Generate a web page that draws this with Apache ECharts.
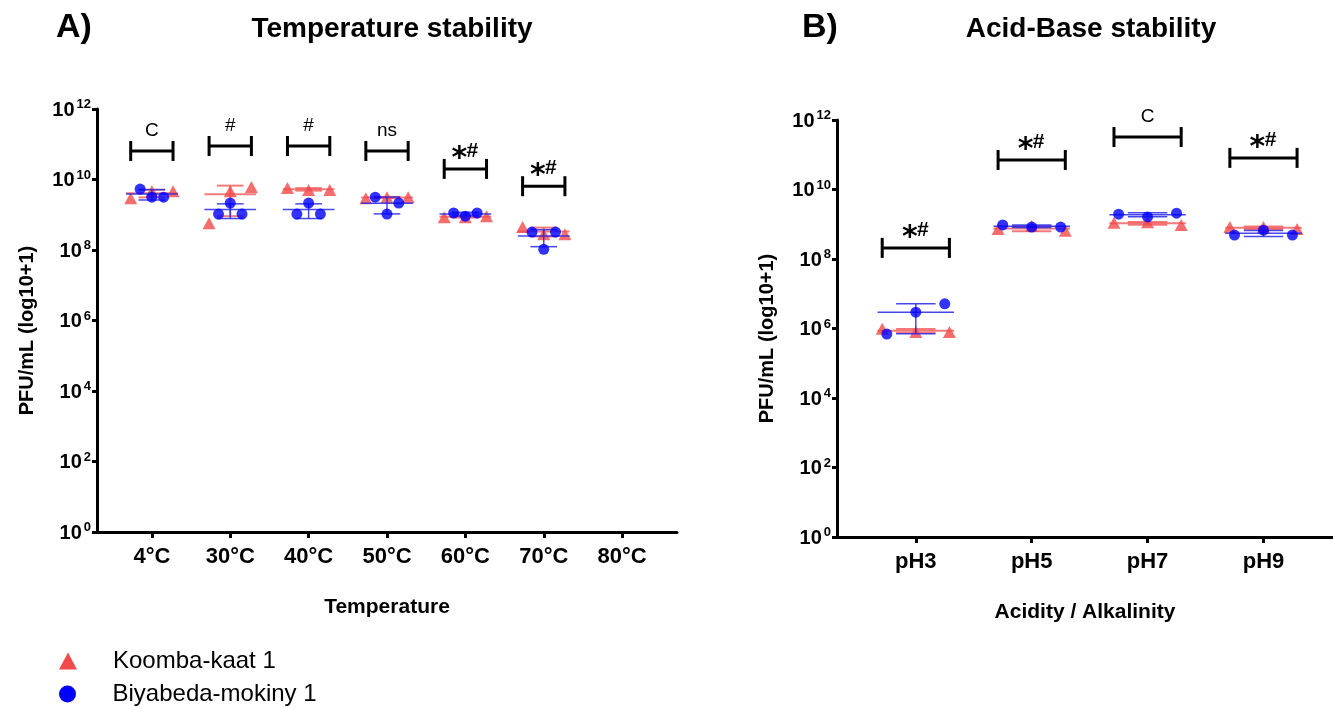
<!DOCTYPE html>
<html>
<head>
<meta charset="utf-8">
<script src="https://cdn.jsdelivr.net/npm/echarts@6/dist/echarts.min.js"></script>
<style>
html, body { margin: 0; padding: 0; background: #fff; }
#chart { width: 1333px; height: 708px; }
</style>
</head>
<body>
<div id="chart"></div>
<script>
// categories
var tempCats = ['4°C', '30°C', '40°C', '50°C', '60°C', '70°C', '80°C'];
var phCats = ['pH3', 'pH5', 'pH7', 'pH9'];

// replicates, log10(PFU/mL) (left -> right inside each group)
var tempKoomba = [[9.47, 9.67, 9.67], [8.76, 9.67, 9.79], [9.76, 9.70, 9.70], [9.47, 9.50, 9.50], [8.93, 8.93, 8.96], [8.65, 8.45, 8.45], []];
var tempBiyabeda = [[9.73, 9.50, 9.50], [9.02, 9.33, 9.02], [9.02, 9.33, 9.02], [9.50, 9.02, 9.33], [9.05, 8.96, 9.05], [8.51, 8.02, 8.51], []];
var phKoomba = [[5.99, 5.90, 5.90], [8.86, 8.95, 8.81], [9.04, 9.06, 8.98], [8.92, 8.92, 8.86]];
var phBiyabeda = [[5.84, 6.47, 6.71], [8.98, 8.92, 8.92], [9.29, 9.21, 9.32], [8.69, 8.83, 8.69]];

// significance marks and the height of their brackets (log10)
var tempSig = ['C', '#', '#', 'ns', '*#', '*#'];
var tempSigY = [10.81, 10.95, 10.95, 10.81, 10.30, 9.81];
var phSig = ['*#', '*#', 'C', '*#'];
var phSigY = [8.32, 10.85, 11.51, 10.91];

var RED = '#F24a4a';
var BLUE = '#0000FF';
var FONT = 'Arial, "Liberation Sans", Helvetica, sans-serif';

var tupu = echarts.init(document.getElementById('chart'));

// mean and SD are taken on the linear PFU values, then shown on the log axis
function stats(reps) {
    var lin = reps.map(function (e) { return Math.pow(10, e); });
    var n = lin.length;
    var mean = lin.reduce(function (a, b) { return a + b; }, 0) / n;
    var sd = Math.sqrt(lin.reduce(function (a, b) { return a + (b - mean) * (b - mean); }, 0) / (n - 1));
    var lo = mean - sd > 0 ? Math.log10(mean - sd) : 0;
    return [Math.log10(mean), Math.log10(mean + sd), lo];
}

function points(groups, spread) {
    var out = [];
    groups.forEach(function (reps, i) {
        reps.forEach(function (v, j) {
            var off = reps.length > 1 ? (j / (reps.length - 1) * 2 - 1) * spread : 0;
            out.push([i + 1 + off, v]);
        });
    });
    return out;
}

function errData(groups) {
    var out = [];
    groups.forEach(function (reps, i) {
        if (!reps.length) return;
        var s = stats(reps);
        out.push([i + 1, s[0], s[1], s[2]]);
    });
    return out;
}

function errRender(color, width, halfMean, halfCap) {
    return function (params, api) {
        var x = api.value(0), m = api.value(1), hi = api.value(2), lo = api.value(3);
        var a = api.coord([x - halfMean, m]), b = api.coord([x + halfMean, m]);
        var t1 = api.coord([x - halfCap, hi]), t2 = api.coord([x + halfCap, hi]);
        var b1 = api.coord([x - halfCap, lo]), b2 = api.coord([x + halfCap, lo]);
        var st = { stroke: color, lineWidth: width };
        return {
            type: 'group',
            children: [
                { type: 'line', shape: { x1: a[0], y1: a[1], x2: b[0], y2: b[1] }, style: st },
                { type: 'line', shape: { x1: (t1[0] + t2[0]) / 2, y1: t1[1], x2: (b1[0] + b2[0]) / 2, y2: b1[1] }, style: st },
                { type: 'line', shape: { x1: t1[0], y1: t1[1], x2: t2[0], y2: t2[1] }, style: st },
                { type: 'line', shape: { x1: b1[0], y1: b1[1], x2: b2[0], y2: b2[1] }, style: st }
            ]
        };
    };
}

function bracketRender(labels, half) {
    return function (params, api) {
        var x = api.value(0), y = api.value(1);
        var p1 = api.coord([x - half, y]), p2 = api.coord([x + half, y]);
        var lab = labels[params.dataIndex];
        var st = { stroke: '#000', lineWidth: 3 };
        var kids = [
            { type: 'line', shape: { x1: p1[0], y1: p1[1], x2: p2[0], y2: p2[1] }, style: st },
            { type: 'line', shape: { x1: p1[0], y1: p1[1] - 10, x2: p1[0], y2: p1[1] + 10 }, style: st },
            { type: 'line', shape: { x1: p2[0], y1: p2[1] - 10, x2: p2[0], y2: p2[1] + 10 }, style: st }
        ];
        var cx = (p1[0] + p2[0]) / 2;
        if (lab === '*#') {
            kids.push({ type: 'text', style: { text: '*', x: cx - 6, y: p1[1] - 10, align: 'center', verticalAlign: 'middle',
                font: 'bold 30px "DejaVu Sans", sans-serif', fill: '#000' } });
            kids.push({ type: 'text', style: { text: '#', x: cx + 7, y: p1[1] - 18, align: 'center', verticalAlign: 'middle',
                font: 'bold 21px ' + FONT, fill: '#000' } });
        } else {
            kids.push({ type: 'text', style: { text: lab, x: cx, y: p1[1] - 20, align: 'center', verticalAlign: 'middle',
                font: '19px ' + FONT, fill: '#000' } });
        }
        return { type: 'group', children: kids };
    };
}

function xAxisFor(idx, cats, name, min, max) {
    var vals = cats.map(function (c, i) { return i + 1; });
    return {
        type: 'value', gridIndex: idx, min: min, max: max,
        name: name, nameLocation: 'middle', nameGap: 65,
        nameTextStyle: { fontSize: 21, fontWeight: 'bold', color: '#000', fontFamily: FONT },
        axisLine: { onZero: false, lineStyle: { color: '#000', width: 3 } },
        axisTick: { customValues: vals, length: 6, lineStyle: { color: '#000', width: 3 } },
        axisLabel: {
            customValues: vals, margin: 14, fontSize: 22, fontWeight: 'bold', color: '#000', fontFamily: FONT,
            formatter: function (v) { return cats[Math.round(v) - 1]; }
        },
        splitLine: { show: false }
    };
}

function yAxisFor(idx) {
    return {
        type: 'value', gridIndex: idx, min: 0, max: 12, interval: 2,
        name: 'PFU/mL (log10+1)', nameLocation: 'middle', nameGap: 60,
        nameTextStyle: { fontSize: 20, fontWeight: 'bold', color: '#000', fontFamily: FONT, padding: [0, 20, 0, 0] },
        axisLine: { lineStyle: { color: '#000', width: 3 } },
        axisTick: { length: 5, lineStyle: { color: '#000', width: 3 } },
        axisLabel: {
            margin: 6, fontFamily: FONT,
            formatter: function (v) { return '{b|10}{s|' + v + '}'; },
            rich: {
                b: { fontSize: 20, fontWeight: 'bold', color: '#000', lineHeight: 22, verticalAlign: 'bottom', fontFamily: FONT },
                s: { fontSize: 13, fontWeight: 'bold', color: '#000', lineHeight: 13, verticalAlign: 'top', padding: [0, 0, 0, 2], fontFamily: FONT }
            }
        },
        splitLine: { show: false }
    };
}

function bracketData(ys) {
    return ys.map(function (y, i) { return [i + 1, y]; });
}

function legendRow(name, icon, top) {
    return {
        left: 59, top: top, padding: 0,
        itemWidth: 18, itemHeight: 17,
        selectedMode: false,
        textStyle: { fontSize: 24, color: '#000', fontFamily: FONT, padding: [0, 0, 0, 31] },
        data: [{ name: name, icon: icon }]
    };
}

option = {
    animation: false,
    textStyle: { fontFamily: FONT },
    title: [
        { text: 'A)', left: 51, top: 6, textStyle: { fontSize: 34, fontWeight: 'bold', color: '#000', fontFamily: FONT } },
        { text: 'Temperature stability', left: 387, top: 10, textAlign: 'center',
          textStyle: { fontSize: 28, fontWeight: 'bold', color: '#000', fontFamily: FONT } },
        { text: 'B)', left: 797, top: 6, textStyle: { fontSize: 34, fontWeight: 'bold', color: '#000', fontFamily: FONT } },
        { text: 'Acid-Base stability', left: 1086, top: 10, textAlign: 'center',
          textStyle: { fontSize: 28, fontWeight: 'bold', color: '#000', fontFamily: FONT } }
    ],
    legend: [
        legendRow('Koomba-kaat 1', 'triangle', 649),
        legendRow('Biyabeda-mokiny 1', 'circle', 682)
    ],
    grid: [
        { left: 97, top: 109, width: 580, height: 423 },
        { left: 837, top: 120, width: 496, height: 417 }
    ],
    xAxis: [
        xAxisFor(0, tempCats, 'Temperature', 0.3, 7.7),
        xAxisFor(1, phCats, 'Acidity / Alkalinity', 0.32, 4.6)
    ],
    yAxis: [yAxisFor(0), yAxisFor(1)],
    series: [
        // panel A
        { type: 'custom', name: 'Koomba-kaat 1', xAxisIndex: 0, yAxisIndex: 0, z: 2, color: RED,
          renderItem: errRender('rgba(240,90,90,0.8)', 2, 0.33, 0.17), data: errData(tempKoomba) },
        { type: 'scatter', name: 'Koomba-kaat 1', xAxisIndex: 0, yAxisIndex: 0, z: 3, color: RED,
          symbol: 'triangle', symbolSize: [13, 12], data: points(tempKoomba, 0.27) },
        { type: 'custom', name: 'Biyabeda-mokiny 1', xAxisIndex: 0, yAxisIndex: 0, z: 4, color: BLUE,
          renderItem: errRender('rgba(40,40,230,0.85)', 1.5, 0.33, 0.17), data: errData(tempBiyabeda) },
        { type: 'scatter', name: 'Biyabeda-mokiny 1', xAxisIndex: 0, yAxisIndex: 0, z: 5, color: BLUE,
          symbol: 'circle', symbolSize: 11, data: points(tempBiyabeda, 0.15) },
        { type: 'custom', xAxisIndex: 0, yAxisIndex: 0, z: 1, silent: true,
          renderItem: bracketRender(tempSig, 0.27), data: bracketData(tempSigY) },
        // panel B
        { type: 'custom', name: 'Koomba-kaat 1', xAxisIndex: 1, yAxisIndex: 1, z: 2, color: RED,
          renderItem: errRender('rgba(240,90,90,0.8)', 2, 0.33, 0.17), data: errData(phKoomba) },
        { type: 'scatter', name: 'Koomba-kaat 1', xAxisIndex: 1, yAxisIndex: 1, z: 3, color: RED,
          symbol: 'triangle', symbolSize: [13, 12], data: points(phKoomba, 0.29) },
        { type: 'custom', name: 'Biyabeda-mokiny 1', xAxisIndex: 1, yAxisIndex: 1, z: 4, color: BLUE,
          renderItem: errRender('rgba(40,40,230,0.85)', 1.5, 0.33, 0.17), data: errData(phBiyabeda) },
        { type: 'scatter', name: 'Biyabeda-mokiny 1', xAxisIndex: 1, yAxisIndex: 1, z: 5, color: BLUE,
          symbol: 'circle', symbolSize: 11, data: points(phBiyabeda, 0.25) },
        { type: 'custom', xAxisIndex: 1, yAxisIndex: 1, z: 1, silent: true,
          renderItem: bracketRender(phSig, 0.29), data: bracketData(phSigY) }
    ]
};
tupu.setOption(option, true);
</script>
</body>
</html>
